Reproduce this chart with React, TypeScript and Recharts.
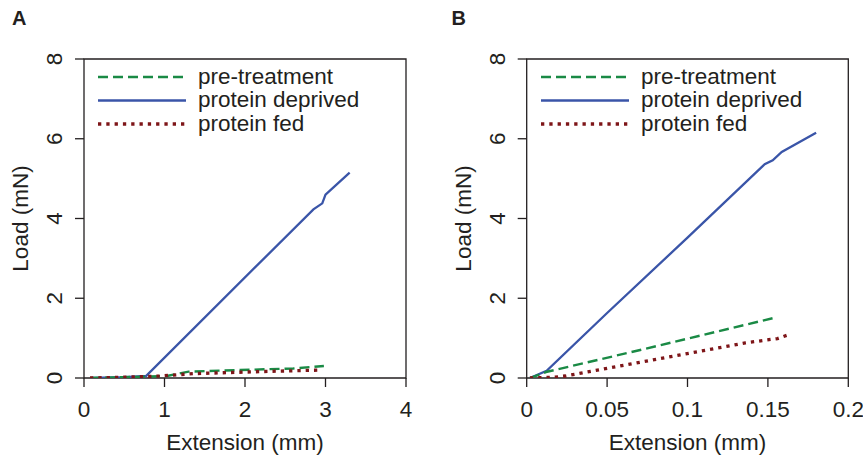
import { LineChart, Line, XAxis, YAxis, ReferenceArea, Legend } from "recharts";

// load (mN) against extension (mm)
const aPreTreatment = [
  { ext: 0.075, load: 0 },
  { ext: 0.5, load: 0.02 },
  { ext: 1.03, load: 0.05 },
  { ext: 1.15, load: 0.1 },
  { ext: 1.3, load: 0.16 },
  { ext: 1.94, load: 0.2 },
  { ext: 2.6, load: 0.24 },
  { ext: 2.98, load: 0.3 },
];
const aDeprived = [
  { ext: 0.1, load: 0 },
  { ext: 0.5, load: 0.02 },
  { ext: 0.77, load: 0.05 },
  { ext: 2.85, load: 4.23 },
  { ext: 2.96, load: 4.38 },
  { ext: 3.0, load: 4.6 },
  { ext: 3.3, load: 5.15 },
];
const aFed = [
  { ext: 0.075, load: 0 },
  { ext: 0.5, load: 0.02 },
  { ext: 0.95, load: 0.05 },
  { ext: 1.36, load: 0.11 },
  { ext: 2.19, load: 0.16 },
  { ext: 2.96, load: 0.2 },
];

const bPreTreatment = [
  { ext: 0.002, load: 0 },
  { ext: 0.012, load: 0.15 },
  { ext: 0.0725, load: 0.72 },
  { ext: 0.153, load: 1.5 },
];
const bDeprived = [
  { ext: 0.002, load: 0 },
  { ext: 0.0124, load: 0.18 },
  { ext: 0.05, load: 1.63 },
  { ext: 0.1, load: 3.52 },
  { ext: 0.148, load: 5.36 },
  { ext: 0.153, load: 5.46 },
  { ext: 0.1586, load: 5.67 },
  { ext: 0.18, load: 6.15 },
];
const bFed = [
  { ext: 0.002, load: 0 },
  { ext: 0.017, load: 0.02 },
  { ext: 0.024, load: 0.05 },
  { ext: 0.0725, load: 0.41 },
  { ext: 0.136, load: 0.88 },
  { ext: 0.156, load: 0.99 },
  { ext: 0.164, load: 1.1 },
];

const aXTicks = [0, 1, 2, 3, 4];
const bXTicks = [0, 0.05, 0.1, 0.15, 0.2];
const yTicks = [0, 2, 4, 6, 8];

const legendNames = ["pre-treatment", "protein deprived", "protein fed"];

const INK = "#231f20";
const FONT = "'Liberation Sans', Arial, Helvetica, sans-serif";
const FS = 22.5;

const styles: Record<string, { stroke: string; width: number; dash?: string }> = {
  "pre-treatment": { stroke: "#1a8a45", width: 2.4, dash: "10 5" },
  "protein deprived": { stroke: "#3a55a8", width: 2.3 },
  "protein fed": { stroke: "#7e1518", width: 3.3, dash: "3.3 5" },
};

const XTick = ({ x, y, payload }: any) => (
  <text x={x} y={y} dy="0.71em" textAnchor="middle" fill={INK} fontSize={FS} fontFamily={FONT}>
    {payload.value}
  </text>
);

const YTick = ({ x, y, payload }: any) => (
  <text
    x={x}
    y={y}
    transform={`rotate(-90, ${x}, ${y})`}
    textAnchor="middle"
    fill={INK}
    fontSize={FS}
    fontFamily={FONT}
  >
    {payload.value}
  </text>
);

const XTitle = ({ viewBox }: any) => {
  const { x, y, width, height } = viewBox;
  return (
    <text x={x + width / 2} y={y + height} textAnchor="middle" fill={INK} fontSize={FS} fontFamily={FONT}>
      Extension (mm)
    </text>
  );
};

const YTitle = ({ viewBox }: any) => {
  const { x, y, width, height } = viewBox;
  const bx = x + width - 56;
  const cy = y + height / 2;
  return (
    <text
      x={bx}
      y={cy}
      transform={`rotate(-90, ${bx}, ${cy})`}
      textAnchor="middle"
      fill={INK}
      fontSize={FS}
      fontFamily={FONT}
    >
      Load (mN)
    </text>
  );
};

const LegendBox = () => (
  <svg width={280} height={80}>
    {legendNames.map((name, i) => {
      const s = styles[name];
      const cy = 15 + i * 23.5;
      return (
        <g key={name}>
          <line
            x1={6}
            x2={94}
            y1={cy}
            y2={cy}
            stroke={s.stroke}
            strokeWidth={s.width}
            strokeDasharray={s.dash}
          />
          <text x={106} y={cy + 6.5} fill={INK} fontSize={FS} fontFamily={FONT}>
            {name}
          </text>
        </g>
      );
    })}
  </svg>
);

interface PanelProps {
  letter: string;
  left: number;
  width: number;
  margin: { top: number; right: number; bottom: number; left: number };
  xMax: number;
  xTicks: number[];
  pre: { ext: number; load: number }[];
  deprived: { ext: number; load: number }[];
  fed: { ext: number; load: number }[];
}

function Panel({ letter, left, width, margin, xMax, xTicks, pre, deprived, fed }: PanelProps) {
  const series = [
    { name: "protein deprived", data: deprived },
    { name: "pre-treatment", data: pre },
    { name: "protein fed", data: fed },
  ];
  return (
    <div style={{ position: "absolute", left, top: 0, width, height: 455 }}>
      <div
        style={{
          position: "absolute",
          left: letter === "A" ? 12 : 21.5,
          top: 7,
          fontFamily: FONT,
          fontWeight: "bold",
          fontSize: 20,
          color: INK,
          zIndex: 2,
        }}
      >
        {letter}
      </div>
      <LineChart width={width} height={455} margin={margin}>
        <XAxis
          type="number"
          dataKey="ext"
          domain={[0, xMax]}
          ticks={xTicks}
          allowDataOverflow
          axisLine={false}
          tickLine={{ stroke: INK, strokeWidth: 1.3 }}
          tickSize={9}
          tickMargin={14}
          tick={<XTick />}
          height={72}
          interval={0}
          label={<XTitle />}
        />
        <YAxis
          type="number"
          dataKey="load"
          domain={[0, 8]}
          ticks={yTicks}
          allowDataOverflow
          axisLine={false}
          tickLine={{ stroke: INK, strokeWidth: 1.3 }}
          tickSize={9}
          tickMargin={13}
          tick={<YTick />}
          width={60}
          interval={0}
          label={<YTitle />}
        />
        <ReferenceArea
          x1={0}
          x2={xMax}
          y1={0}
          y2={8}
          fill="none"
          fillOpacity={0}
          stroke={INK}
          strokeWidth={1.3}
          strokeOpacity={1}
        />
        {series.map((s) => (
          <Line
            key={s.name}
            name={s.name}
            data={s.data}
            dataKey="load"
            type="linear"
            stroke={styles[s.name].stroke}
            strokeWidth={styles[s.name].width}
            strokeDasharray={styles[s.name].dash}
            dot={false}
            activeDot={false}
            isAnimationActive={false}
          />
        ))}
        <Legend
          layout="vertical"
          align="center"
          verticalAlign="middle"
          content={<LegendBox />}
          wrapperStyle={{ left: margin.left + 60 + 8, top: 62, width: 280, height: 80 }}
        />
      </LineChart>
    </div>
  );
}

export default function App() {
  return (
    <div style={{ position: "absolute", left: 0, top: 0, width: 863, height: 455, background: "#fff" }}>
      <Panel
        letter="A"
        left={0}
        width={430}
        margin={{ top: 59, right: 24, bottom: 5, left: 24 }}
        xMax={4}
        xTicks={aXTicks}
        pre={aPreTreatment}
        deprived={aDeprived}
        fed={aFed}
      />
      <Panel
        letter="B"
        left={430}
        width={433}
        margin={{ top: 59, right: 14.7, bottom: 5, left: 36.7 }}
        xMax={0.2}
        xTicks={bXTicks}
        pre={bPreTreatment}
        deprived={bDeprived}
        fed={bFed}
      />
    </div>
  );
}
